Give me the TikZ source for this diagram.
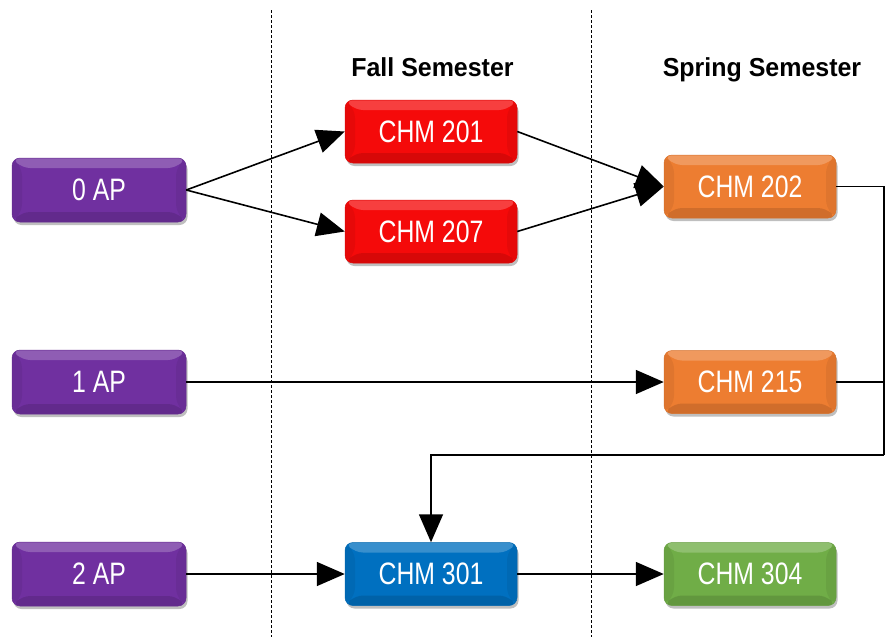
\documentclass[tikz,border=0pt]{standalone}
\usepackage{fontspec}
\setmainfont{Liberation Sans}[FakeStretch=0.8]
\newfontfamily\headfont{Liberation Sans}[FakeStretch=0.96]
\usetikzlibrary{arrows.meta,shadows,calc}
\definecolor{cpurple}{RGB}{112,48,160}
\definecolor{cred}{RGB}{245,10,10}
\definecolor{corange}{RGB}{237,125,49}
\definecolor{cblue}{RGB}{0,112,192}
\definecolor{cgreen}{RGB}{112,173,71}
\tikzset{
  bevel/.style={path picture={
    \coordinate (pnw) at (path picture bounding box.north west);
    \coordinate (pne) at (path picture bounding box.north east);
    \coordinate (psw) at (path picture bounding box.south west);
    \coordinate (pse) at (path picture bounding box.south east);
    \fill[white,opacity=.22] (pnw) -- (pne) -- ($(pne)+(-10,10)$) -- ($(pnw)+(10,10)$) -- cycle;
    \fill[black,opacity=.12] (psw) -- (pse) -- ($(pse)+(-10,-10)$) -- ($(psw)+(10,-10)$) -- cycle;
    \fill[black,opacity=.06] (pnw) -- ($(pnw)+(10,10)$) -- ($(psw)+(10,-10)$) -- (psw) -- cycle;
    \fill[black,opacity=.06] (pne) -- ($(pne)+(-10,10)$) -- ($(pse)+(-10,-10)$) -- (pse) -- cycle;
  }},
  coursebox/.style={rounded corners=8pt, minimum width=172pt, minimum height=63pt,
    fill=#1, draw=#1!90!black, line width=0.5pt, bevel,
    drop shadow={shadow xshift=1.5pt, shadow yshift=-3pt, opacity=.25, fill=black},
    text=white, font=\fontsize{31}{34}\selectfont, inner sep=0pt},
  heading/.style={font=\headfont\bfseries\fontsize{26}{30}\selectfont, inner sep=0pt, anchor=base},
  conn/.style={line width=1.6pt, -{Triangle[length=28pt,width=24pt]}},
  plain/.style={line width=1.6pt},
  divider/.style={line width=0.6pt, dash pattern=on 3pt off 2pt}
}
\begin{document}
\begin{tikzpicture}[x=1pt,y=-1pt]
\useasboundingbox (0,0) rectangle (896,637);
\coordinate (d1t) at (271,10); \coordinate (d1b) at (271,637);
\coordinate (d2t) at (591,10); \coordinate (d2b) at (591,637);
\draw[divider] (d1t) -- (d1b);
\draw[divider] (d2t) -- (d2b);
\node[heading] (fall) at (432.5,76) {Fall Semester};
\node[heading] (spring) at (762,76) {Spring Semester};
\node[coursebox=cpurple, minimum width=174pt, minimum height=64pt] (ap0) at (99,190) {0 AP};
\node[coursebox=cpurple, minimum width=174pt, minimum height=64pt] (ap1) at (99,382) {1 AP};
\node[coursebox=cpurple, minimum width=174pt, minimum height=64pt] (ap2) at (99,574) {2 AP};
\node[coursebox=cred] (c201) at (431,131.5) {CHM 201};
\node[coursebox=cred] (c207) at (431,231.5) {CHM 207};
\node[coursebox=corange] (c202) at (750,186.5) {CHM 202};
\node[coursebox=corange] (c215) at (750,382) {CHM 215};
\node[coursebox=cblue] (c301) at (431,574) {CHM 301};
\node[coursebox=cgreen] (c304) at (750,574) {CHM 304};
\coordinate (r1) at (884,186.5);
\coordinate (r2) at (884,382);
\coordinate (r3) at (884,455);
\coordinate (r4) at (431,455);
\draw[conn] (ap0.east) -- (c201.west);
\draw[conn] (ap0.east) -- (c207.west);
\draw[conn] (c201.east) -- (c202.west);
\draw[conn] (c207.east) -- (c202.west);
\draw[conn] (ap1.east) -- (c215.west);
\draw[plain] (c202.east) -- (r1) -- (r3);
\draw[plain] (c215.east) -- (r2);
\draw[conn] (r3) -- (r4) -- (c301.north);
\draw[conn] (ap2.east) -- (c301.west);
\draw[conn] (c301.east) -- (c304.west);
\end{tikzpicture}
\end{document}
